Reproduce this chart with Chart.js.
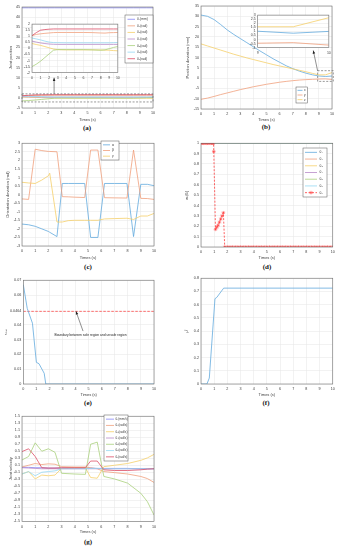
<!DOCTYPE html>
<html><head><meta charset="utf-8">
<script src="https://cdn.jsdelivr.net/npm/chart.js@4.4.0/dist/chart.umd.min.js"></script>
<style>
body{margin:0;background:#fff;width:340px;height:550px;position:relative;overflow:hidden}
canvas{position:absolute}
.pl{position:absolute;font-family:'Liberation Serif','DejaVu Serif',serif;font-size:7px;font-weight:bold;transform:translate(-50%,-50%);color:#111;white-space:nowrap}
</style></head><body>
<div class="pl" style="left:87px;top:128px">(a)</div>
<div class="pl" style="left:266px;top:127px">(b)</div>
<div class="pl" style="left:88px;top:267px">(c)</div>
<div class="pl" style="left:267px;top:267px">(d)</div>
<div class="pl" style="left:88px;top:403px">(e)</div>
<div class="pl" style="left:266px;top:403px">(f)</div>
<div class="pl" style="left:88px;top:542px">(g)</div>
<script>
// ---------- DATA ----------
const xTicks10 = [0,1,2,3,4,5,6,7,8,9,10];
// (a) joint position
const tA = [0,0.5,1,1.5,2,2.5,3,4,5,6,7,8,8.5,9,9.5,10];
const aQ1 = [44.6,44.6,44.6,44.6,44.6,44.6,44.6,44.6,44.6,44.6,44.6,44.6,44.6,44.6,44.6,44.6];
const aQ2 = [1.05,1.15,1.2,1.24,1.27,1.3,1.31,1.31,1.31,1.31,1.3,1.27,1.26,1.29,1.3,1.31];
const aQ3 = [0.4,0.32,0.25,0.15,0.05,-0.05,-0.1,-0.12,-0.12,-0.12,-0.12,-0.13,-0.14,-0.15,-0.18,-0.2];
const aQ4 = [0.6,0.52,0.45,0.4,0.36,0.34,0.33,0.33,0.33,0.33,0.33,0.33,0.33,0.33,0.33,0.33];
const aQ5 = [-1.5,-1.3,-1.05,-0.75,-0.45,-0.15,-0.1,-0.1,-0.1,-0.1,-0.12,-0.15,-0.12,-0.02,0.08,0.15];
const aQ6 = [0.85,0.78,0.7,0.6,0.52,0.48,0.47,0.46,0.46,0.46,0.46,0.46,0.46,0.46,0.47,0.48];
const aQ7 = [1.05,1.3,1.5,1.55,1.58,1.6,1.6,1.6,1.6,1.6,1.6,1.6,1.6,1.6,1.6,1.6];
const aYTicks = [-5,0,5,10,15,20,25,30,35,40,45];
const aInsetYTicks = [-2,-1.5,-1,-0.5,0,0.5,1,1.5,2];
// (b) position deviation
const tB = [0,0.5,1,1.5,2,2.5,3,3.5,4,4.5,5,5.5,6,6.5,7,7.5,8,8.5,9,9.5,10];
const bX = [30.6,30.0,28.4,26.0,23.4,21.2,19.2,17.2,15.2,13.2,11.3,9.4,7.7,6.0,4.6,3.4,2.4,1.6,1.02,0.78,1.0];
const bY = [-10.3,-9.7,-8.9,-8.0,-7.2,-6.4,-5.6,-4.9,-4.2,-3.6,-3.0,-2.5,-2.0,-1.6,-1.25,-0.95,-0.75,-0.6,-0.45,-0.38,-0.68];
const bZ = [16.6,15.6,14.6,13.6,12.6,11.6,10.7,9.8,9.0,8.2,7.4,6.6,5.9,5.2,4.5,3.8,3.1,2.3,1.57,1.57,2.68];
const bYTicks = [-15,-10,-5,0,5,10,15,20,25,30,35];
const bInsetXTicks = [9,10];
const bInsetYTicks = [-1,-0.5,0,0.5,1,1.5,2,2.5,3];
// (c) orientation deviation
const tC = [0,0.5,1,1.5,2,2.1,2.65,3.05,3.5,4,4.75,5.2,5.75,6.25,7,7.95,8.45,9,9.5,10];
const cAlpha = [-1.72,-1.76,-1.85,-2.0,-2.15,-2.2,-2.45,0.65,0.65,0.65,0.65,-2.5,-2.5,0.65,0.65,0.65,-2.45,0.6,0.6,0.52];
const cBeta = [-0.25,-0.28,2.65,2.57,2.52,2.52,2.5,-0.12,-0.13,-0.15,-0.17,2.6,2.6,-0.18,-0.19,-0.2,2.6,-0.22,-0.23,-0.28];
const cGamma = [0.72,0.68,0.65,0.85,1.1,1.25,-1.6,-1.6,-1.52,-1.5,-1.5,-1.5,-1.5,-1.42,-1.4,-1.38,-1.45,-1.25,-1.25,-1.1];
const cYTicks = [-3,-2.5,-2,-1.5,-1,-0.5,0,0.5,1,1.5,2,2.5,3];
// (d) weights
const tD = [0,10];
const dQ1 = [1,1], dQ2 = [1,1], dQ3 = [1,1], dQ4 = [1,1], dQ5 = [1,1], dQ6 = [1,1];
const tQ7 = [0,0.1,0.2,0.3,0.4,0.5,0.6,0.7,0.8,0.9,0.95,0.97,1.1,1.2,1.3,1.4,1.5,1.6,1.7,
  1.8,2,2.2,2.4,2.6,2.8,3,3.2,3.4,3.6,3.8,4,4.2,4.4,4.6,4.8,5,5.2,5.4,5.6,5.8,6,6.2,6.4,6.6,6.8,7,7.2,7.4,7.6,7.8,8,8.2,8.4,8.6,8.8,9,9.2,9.4,9.6,9.8,10];
const dQ7 = [1,1,1,1,1,1,1,1,1,1,1,0.92,0.17,0.19,0.21,0.24,0.27,0.3,0.33,
  0,0,0,0,0,0,0,0,0,0,0,0,0,0,0,0,0,0,0,0,0,0,0,0,0,0,0,0,0,0,0,0,0,0,0,0,0,0,0,0,0,0];
const dYTicks = [0,0.1,0.2,0.3,0.4,0.5,0.6,0.7,0.8,0.9,1];
// (e) r_min
const tE = [0,0.3,0.7,1.0,1.2,1.6,1.72,2,3,4,5,6,7,8,9,10];
const eRmin = [0.067,0.051,0.041,0.0146,0.0137,0.0072,0,0,0,0,0,0,0,0,0,0];
const tBound = [0,10];
const eBound = [0.049,0.049];
const eYTicks = [0,0.01,0.02,0.03,0.04,0.049,0.06,0.07];
const eYLabels = ['0','0.01','0.02','0.03','0.04','0.0464','0.06','0.07'];
// (f) mu
const tF = [0,0.45,0.63,1.06,1.2,1.72,10];
const fMu = [0,0,0.045,0.645,0.655,0.725,0.725];
const fYTicks = [0,0.1,0.2,0.3,0.4,0.5,0.6,0.7,0.8];
// (g) joint velocity
const tG = [0,0.5,1,1.5,2,2.5,3,4,4.8,5.2,5.7,6.2,7,8,9,9.5,10];
const gQ1 = [0.04,0.04,0.03,0.03,0.02,0.02,0.02,0.02,0.02,0.02,0.01,0.01,0.01,0.01,0,0,0];
const gQ2 = [0.05,0.1,0.15,0.12,0.14,0.13,0.06,0.05,0.05,0.03,0,-0.08,-0.11,-0.15,-0.22,-0.28,-0.39];
const gQ3 = [-0.15,-0.08,-0.29,-0.18,-0.2,-0.18,0.01,0.03,0.03,-0.25,-0.27,0.06,0.1,0.15,0.24,0.31,0.41];
const gQ4 = [0.03,0.02,0.01,0,0,0,0,0,0,0,0,0,0,0,0,0,0];
const gQ5 = [0.25,0.35,0.74,0.5,0.57,0.47,-0.13,-0.15,-0.16,0.7,0.76,-0.22,-0.29,-0.41,-0.7,-0.94,-1.32];
const gQ6 = [-0.15,-0.08,-0.2,-0.1,-0.08,-0.06,0,0,0,0.01,0.01,0,0,0,0,0,0];
const gQ7 = [0.49,0.57,0.35,0.03,0.02,0.02,0.03,0.03,0.03,0.22,0.22,-0.03,-0.05,-0.05,-0.03,-0.01,0];
const gYTicks = [-1.5,-1.3,-1.1,-0.9,-0.7,-0.5,-0.3,-0.1,0.1,0.3,0.5,0.7,0.9,1.1,1.3,1.5];

// ---------- STYLE ----------
const FONT = "'Liberation Sans','DejaVu Sans',sans-serif";
const GRID = '#e4e4e4', AX = '#707070', TXT = '#404040';
const C = {blue:'#62a9dd', salmon:'#f0a07c', yellow:'#f5cf6a', purple:'#b88ac8', green:'#a9d17c',
  cyan:'#95d8f2', red:'#dc4e66', violet:'#8585f5', bright:'#ff3b3b'};

function ser(label, xs, ys, color, extra){
  return Object.assign({label, data: xs.map((x,i)=>({x, y: ys[i]})), borderColor: color,
    backgroundColor: color, borderWidth: 0.8, pointRadius: 0, fill: false, tension: 0}, extra||{});
}

function arrow(ctx, x0, y0, x1, y1){
  ctx.strokeStyle = '#222'; ctx.fillStyle = '#222'; ctx.lineWidth = 0.5;
  ctx.beginPath(); ctx.moveTo(x0,y0); ctx.lineTo(x1,y1); ctx.stroke();
  const a = Math.atan2(y1-y0, x1-x0), L = 3.2, W = 1.3;
  ctx.beginPath(); ctx.moveTo(x1,y1);
  ctx.lineTo(x1 - L*Math.cos(a) + W*Math.sin(a), y1 - L*Math.sin(a) - W*Math.cos(a));
  ctx.lineTo(x1 - L*Math.cos(a) - W*Math.sin(a), y1 - L*Math.sin(a) + W*Math.cos(a));
  ctx.closePath(); ctx.fill();
}

const deco = {
  id: 'deco',
  beforeDraw(chart, args, o){
    if (o.bg){ const a = chart.chartArea, ctx = chart.ctx; ctx.save(); ctx.fillStyle = '#fff';
      ctx.fillRect(a.left, a.top, a.right-a.left, a.bottom-a.top); ctx.restore(); }
  },
  afterDatasetsDraw(chart, args, o){
    const ctx = chart.ctx, a = chart.chartArea, xs = chart.scales.x, ys = chart.scales.y;
    const px = v => xs.getPixelForValue(v), py = v => ys.getPixelForValue(v);
    ctx.save();
    (o.rects||[]).forEach(r => {
      ctx.strokeStyle = '#555'; ctx.lineWidth = 0.6; ctx.setLineDash([2,1.5]);
      ctx.strokeRect(px(r.x0), py(r.y1), px(r.x1)-px(r.x0), py(r.y0)-py(r.y1));
    });
    ctx.setLineDash([]);
    ctx.strokeStyle = AX; ctx.lineWidth = 0.6;
    ctx.strokeRect(a.left, a.top, a.right-a.left, a.bottom-a.top);
    (o.arrows||[]).forEach(r => arrow(ctx, px(r.x0), py(r.y0), px(r.x1), py(r.y1)));
    (o.texts||[]).forEach(t => {
      ctx.fillStyle = '#222'; ctx.font = t.fs + 'px ' + FONT; ctx.textAlign = 'center'; ctx.textBaseline = 'middle';
      ctx.fillText(t.text, px(t.x), py(t.y));
    });
    const lg = o.legend;
    if (lg){
      const x = lg.x - o.ox, y = lg.y - o.oy;
      ctx.fillStyle = '#fff'; ctx.fillRect(x, y, lg.w, lg.h);
      ctx.strokeStyle = '#555'; ctx.lineWidth = 0.5; ctx.strokeRect(x, y, lg.w, lg.h);
      const items = chart.data.datasets.filter(d => d.label && !d.noLegend);
      const rh = (lg.h - 2) / items.length;
      items.forEach((d, i) => {
        const cy = y + 1 + rh*(i+0.5);
        ctx.strokeStyle = d.borderColor; ctx.lineWidth = 0.8; ctx.setLineDash(d.borderDash || []);
        ctx.beginPath(); ctx.moveTo(lg.lx0 - o.ox, cy); ctx.lineTo(lg.lx1 - o.ox, cy); ctx.stroke();
        ctx.setLineDash([]);
        if (d.pointStyle === 'star'){
          ctx.lineWidth = 0.5;
          Chart.helpers.drawPoint(ctx, {pointStyle:'star', radius:1.8, rotation:0, borderWidth:0.5}, (lg.lx0+lg.lx1)/2 - o.ox, cy);
        }
        ctx.fillStyle = TXT; ctx.font = lg.fs + 'px ' + FONT; ctx.textAlign = 'left'; ctx.textBaseline = 'middle';
        ctx.fillText(d.label, lg.tx - o.ox, cy);
      });
    }
    ctx.restore();
  }
};

function panel(s){
  const [L,T,R,B] = s.plot;
  const tfs = s.tfs || 4, tlh = tfs*1.2;
  const cl = Math.floor(s.yTitle ? s.yTitleX - tlh/2 : L - s.yW);
  const ct = Math.floor(T - s.padTop);
  const cr = Math.ceil(R + s.padRight);
  const cb = Math.ceil(s.xTitle ? s.xTitleY + tlh/2 : B + s.xH);
  const c = document.createElement('canvas');
  c.width = cr - cl; c.height = cb - ct;
  c.style.left = cl + 'px'; c.style.top = ct + 'px';
  c.style.width = (cr-cl) + 'px'; c.style.height = (cb-ct) + 'px';
  document.body.appendChild(c);
  const n = s.datasets.length;
  s.datasets.forEach((d,i) => { d.order = n - i; });
  const fs = s.fs || 3.7;
  const xLab = s.xLabels || s.xTicks.map(String);
  const yLab = s.yLabels || s.yTicks.map(String);
  const deco_o = Object.assign({ox: cl, oy: ct}, s.deco || {});
  new Chart(c, {
    type: 'line',
    data: {datasets: s.datasets},
    options: {
      responsive: false, animation: false, devicePixelRatio: 1,
      layout: {autoPadding: false, padding: {left: 0, top: T - ct, right: cr - R, bottom: 0}},
      plugins: {legend: {display: false}, tooltip: {enabled: false}, deco: deco_o},
      scales: {
        x: {type: 'linear', min: s.xMin, max: s.xMax,
          afterFit: sc => { sc.height = cb - B; },
          afterBuildTicks: sc => { sc.ticks = s.xTicks.map(v => ({value: v})); },
          ticks: {callback: (v,i) => xLab[i], font: {size: fs, family: FONT}, color: TXT, padding: 3.2, maxRotation: 0, autoSkip: false},
          grid: {color: GRID, lineWidth: 0.5, drawTicks: false},
          border: {display: false},
          title: {display: !!s.xTitle, text: s.xTitle, font: {size: tfs, family: FONT, lineHeight: 1.2}, padding: 0, color: TXT}},
        y: {type: 'linear', min: s.yMin, max: s.yMax,
          afterFit: sc => { sc.width = L - cl; },
          afterBuildTicks: sc => { sc.ticks = s.yTicks.map(v => ({value: v})); },
          ticks: {callback: (v,i) => yLab[i], font: {size: fs, family: FONT}, color: TXT, padding: 2, autoSkip: false},
          grid: {color: GRID, lineWidth: 0.5, drawTicks: false},
          border: {display: false},
          title: {display: !!s.yTitle, text: s.yTitle, font: {size: tfs, family: FONT, lineHeight: 1.2}, padding: 0, color: TXT}}
      },
      elements: {point: {radius: 0}, line: {tension: 0}}
    },
    plugins: [deco]
  });
}

const aSets = () => [
  ser('θ₁(mm)', tA, aQ1, C.violet),
  ser('θ₂(rad)', tA, aQ2, C.salmon),
  ser('θ₃(rad)', tA, aQ3, C.yellow),
  ser('θ₄(rad)', tA, aQ4, C.purple),
  ser('θ₅(rad)', tA, aQ5, C.green),
  ser('θ₆(rad)', tA, aQ6, C.cyan),
  ser('θ₇(rad)', tA, aQ7, C.red)
];
// (a)
panel({plot:[22,7,153,108], yTitleX:11, xTitleY:119, padTop:5, padRight:6,
  yTitle:'Joint position', xTitle:'Times (s)', xMin:0, xMax:10, xTicks:xTicks10,
  yMin:-5, yMax:45, yTicks:aYTicks, datasets:aSets(),
  deco:{rects:[{x0:0,x1:10,y0:-2,y1:2}], arrows:[{x0:2.45,y0:2,x1:2.45,y1:10}],
    legend:{x:125,y:15,w:28,h:48,lx0:127.5,lx1:135,tx:137,fs:3.4}}});
panel({plot:[32,23.3,119.3,72.7], yW:10, xH:7, padTop:3, padRight:3, fs:3.5,
  xMin:0, xMax:10, xTicks:xTicks10, yMin:-2, yMax:2, yTicks:aInsetYTicks,
  datasets:aSets(), deco:{bg:true}});
// (b)
const bSets = () => [ser('x', tB, bX, C.blue), ser('y', tB, bY, C.salmon), ser('z', tB, bZ, C.yellow)];
panel({plot:[201,6,332,109], yTitleX:188, xTitleY:119, padTop:5, padRight:6,
  yTitle:'Position deviation (mm)', xTitle:'Times (s)', xMin:0, xMax:10, xTicks:xTicks10,
  yMin:-15, yMax:35, yTicks:bYTicks, datasets:bSets(),
  deco:{rects:[{x0:8.9,x1:10.1,y0:-1.6,y1:3.6}], arrows:[{x0:8.9,y0:3.6,x1:8.57,y1:13.4}],
    legend:{x:296,y:87,w:11.5,h:16,lx0:297.5,lx1:302.5,tx:304,fs:3.2}}});
panel({plot:[257.7,14,331,47.7], yW:10, xH:7, padTop:3, padRight:3, fs:3.5,
  xMin:9, xMax:10, xTicks:bInsetXTicks, yMin:-1, yMax:3, yTicks:bInsetYTicks,
  datasets:bSets(), deco:{bg:true}});
// (c)
panel({plot:[22,143,154,246], yTitleX:8, xTitleY:257, padTop:4, padRight:6,
  yTitle:'Orientation deviation (rad)', xTitle:'Times (s)', xMin:0, xMax:10, xTicks:xTicks10,
  yMin:-3, yMax:3, yTicks:cYTicks,
  datasets:[ser('α', tC, cAlpha, C.blue), ser('β', tC, cBeta, C.salmon), ser('γ', tC, cGamma, C.yellow)],
  deco:{legend:{x:101,y:141,w:18,h:19,lx0:103,lx1:110,tx:112,fs:3.4}}});
// (d)
panel({plot:[201,143,333,247], yTitleX:187, xTitleY:257, padTop:4, padRight:5,
  yTitle:'wᵢ(θᵢ)', xTitle:'Times (s)', xMin:0, xMax:10, xTicks:xTicks10,
  yMin:0, yMax:1, yTicks:dYTicks,
  datasets:[ser('θ₁', tD, dQ1, C.blue), ser('θ₂', tD, dQ2, C.salmon), ser('θ₃', tD, dQ3, C.yellow),
    ser('θ₄', tD, dQ4, C.purple), ser('θ₅', tD, dQ5, C.green), ser('θ₆', tD, dQ6, C.cyan),
    ser('θ₇', tQ7, dQ7, C.bright, {borderDash:[2,1.5], pointStyle:'star', pointRadius:1.8, pointBorderWidth:0.5, pointBorderColor:C.bright})],
  deco:{legend:{x:303,y:148,w:24,h:49,lx0:305,lx1:317,tx:319.5,fs:3.4}}});
// (e)
panel({plot:[23.3,280,154,384], yTitleX:6, xTitleY:394, padTop:4, padRight:6,
  yTitle:'rₘᵢₙ', xTitle:'Times (s)', xMin:0, xMax:10, xTicks:xTicks10,
  yMin:0, yMax:0.07, yTicks:eYTicks, yLabels:eYLabels,
  datasets:[ser('boundary', tBound, eBound, '#ff4d4d', {borderDash:[2.5,1.5], noLegend:true}),
    ser('rmin', tE, eRmin, C.blue, {noLegend:true})],
  deco:{arrows:[{x0:4.57,y0:0.0357,x1:4.03,y1:0.049}],
    texts:[{x:5.14,y:0.033,text:'Boundary between safe region and unsafe region',fs:3.3}]}});
// (f)
panel({plot:[201,278,333,384], yTitleX:187, xTitleY:394, padTop:4, padRight:5,
  yTitle:'μᶠ', xTitle:'Times (s)', xMin:0, xMax:10, xTicks:xTicks10,
  yMin:0, yMax:0.8, yTicks:fYTicks,
  datasets:[ser('mu', tF, fMu, C.blue, {noLegend:true})]});
// (g)
panel({plot:[22,416,154,521.3], yTitleX:11, xTitleY:531.5, padTop:4, padRight:6,
  yTitle:'Joint velocity', xTitle:'Times (s)', xMin:0, xMax:10, xTicks:xTicks10,
  yMin:-1.5, yMax:1.5, yTicks:gYTicks,
  datasets:[ser('θ₁(mm/s)', tG, gQ1, C.violet), ser('θ₂(rad/s)', tG, gQ2, C.salmon),
    ser('θ₃(rad/s)', tG, gQ3, C.yellow), ser('θ₄(rad/s)', tG, gQ4, C.purple),
    ser('θ₅(rad/s)', tG, gQ5, C.green), ser('θ₆(rad/s)', tG, gQ6, C.cyan),
    ser('θ₇(rad/s)', tG, gQ7, C.red)],
  deco:{legend:{x:104,y:415,w:24,h:46,lx0:106,lx1:114,tx:115.5,fs:3.1}}});
</script>
</body></html>
